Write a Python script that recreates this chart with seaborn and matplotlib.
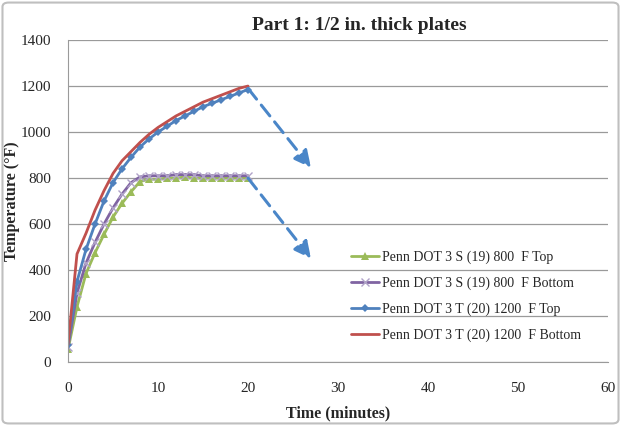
import numpy as np
import pandas as pd
import matplotlib
matplotlib.use("Agg")
import matplotlib.pyplot as plt
from matplotlib.patches import FancyBboxPatch
import seaborn as sns

# data (1-minute readings, 0-20 min)
time_min = list(range(0, 21))
s800_top = [55, 240, 385, 475, 555, 630, 690, 740, 785, 795, 795, 800, 800, 805, 800, 800, 800, 800, 800, 800, 800]
s800_bottom = [65, 300, 430, 520, 600, 670, 730, 780, 805, 810, 810, 810, 815, 815, 815, 810, 810, 810, 810, 810, 810]
t1200_top = [75, 350, 490, 600, 700, 780, 840, 890, 935, 970, 1000, 1025, 1050, 1070, 1090, 1110, 1125, 1140, 1155, 1170, 1185]
t1200_bottom = [75, 470, 560, 660, 745, 820, 875, 915, 955, 990, 1020, 1045, 1070, 1090, 1110, 1130, 1145, 1160, 1175, 1190, 1200]

labels = ["Penn DOT 3 S (19) 800  F Top",
          "Penn DOT 3 S (19) 800  F Bottom",
          "Penn DOT 3 T (20) 1200  F Top",
          "Penn DOT 3 T (20) 1200  F Bottom"]
colors = ["#9BBB59", "#8064A2", "#4F81BD", "#C0504D"]
markers = ["^", "x", "D", ""]

# dashed "cooling" arrows (start, end) in data units
arrow_starts = [(20, 1190), (20, 800)]
arrow_ends = [(27, 845), (27, 450)]

df = pd.DataFrame({
    "time": time_min * 4,
    "temp": s800_top + s800_bottom + t1200_top + t1200_bottom,
    "series": np.repeat(labels, len(time_min)),
})

sns.set_style("white")
plt.rcParams["font.family"] = ["Liberation Serif", "DejaVu Serif"]

fig = plt.figure(figsize=(6.21, 4.26), dpi=100)
ax = fig.add_axes([0.1095, 0.150, 0.8695, 0.756])

for lab, col, mk in zip(labels, colors, markers):
    sub = df[df["series"] == lab]
    sns.lineplot(data=sub, x="time", y="temp", ax=ax, color=col, linewidth=2,
                 marker=mk if mk else None, markersize=6 if mk != "D" else 4.5,
                 markeredgewidth=1 if mk == "x" else 0,
                 markeredgecolor="#B0A3C8" if mk == "x" else col,
                 label=lab, legend=False)

for (x0, y0), (x1, y1) in zip(arrow_starts, arrow_ends):
    ax.annotate("", xy=(x1, y1), xytext=(x0, y0),
                arrowprops=dict(arrowstyle="-|>,head_length=1.0,head_width=0.5",
                                linestyle=(0, (4.5, 2.5)), color="#4A86C8", lw=2.2,
                                shrinkA=0, shrinkB=0))

ax.set_xlim(0, 60)
ax.set_ylim(0, 1400)
ax.set_xticks(range(0, 61, 10))
ax.set_yticks(range(0, 1401, 200))
ax.grid(axis="y", color="#9A9A9A", linewidth=0.9)
ax.set_axisbelow(True)
for side in ["top", "right"]:
    ax.spines[side].set_visible(False)
for side in ["left", "bottom"]:
    ax.spines[side].set_color("#9A9A9A")
ax.tick_params(axis="both", direction="out", length=4, color="#9A9A9A",
               labelsize=11)
ax.tick_params(axis="x", pad=10)
ax.tick_params(axis="y", pad=8)
ax.set_xlabel("Time (minutes)", fontsize=11.5, fontweight="bold", labelpad=8)
ax.set_ylabel("Temperature (°F)", fontsize=11.5, fontweight="bold", va="center")
ax.yaxis.set_label_coords(-0.103, 0.5)

fig.text(0.578, 0.94, "Part 1: 1/2 in. thick plates", ha="center", va="center",
         fontsize=14, fontweight="bold")

handles, _ = ax.get_legend_handles_labels()
leg = ax.legend(handles, labels, loc="upper left", bbox_to_anchor=(0.566, 0.413),
                bbox_transform=fig.transFigure, frameon=False, fontsize=10,
                handlelength=2.0, handletextpad=0.2, labelspacing=0.92,
                borderaxespad=0, borderpad=0)

fig.patches.append(FancyBboxPatch((0.004, 0.006), 0.992, 0.988,
                                  boxstyle="round,pad=0,rounding_size=0.01",
                                  transform=fig.transFigure, fill=False,
                                  edgecolor="#BFBFBF", linewidth=1.5))

fig.savefig("out.png", dpi=100)
